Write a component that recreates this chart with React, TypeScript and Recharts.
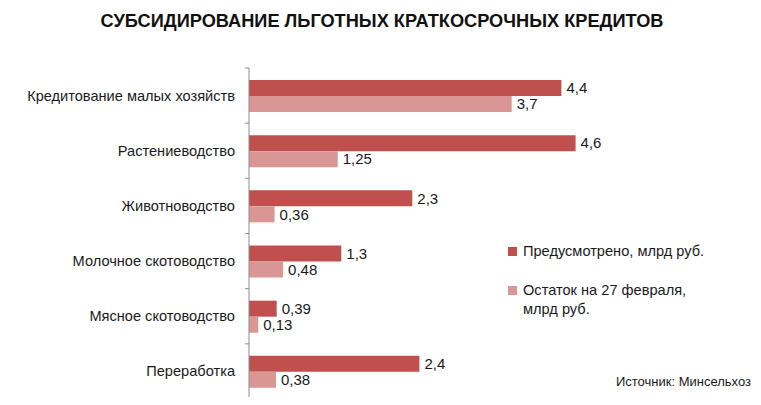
import React from "react";
import { BarChart, Bar, XAxis, YAxis, LabelList } from "recharts";

const categories = [
  "Кредитование малых хозяйств",
  "Растениеводство",
  "Животноводство",
  "Молочное скотоводство",
  "Мясное скотоводство",
  "Переработка",
];
const planned = [4.4, 4.6, 2.3, 1.3, 0.39, 2.4];
const remaining = [3.7, 1.25, 0.36, 0.48, 0.13, 0.38];

const seriesNames = ["Предусмотрено, млрд руб.", "Остаток на 27 февраля, млрд руб."];
const colors = ["#c0504d", "#d99694"];

const data = categories.map((name, i) => ({ name, plan: planned[i], rest: remaining[i] }));

const font = "'Liberation Sans', Arial, sans-serif";
const comma = (v: any) => String(v).replace(".", ",");

const CategoryTick = (props: any) => {
  const { x, y, payload, index, visibleTicksCount } = props;
  const half = payload?.offset ?? 27.6;
  return (
    <g>
      <line x1={x + 10} x2={x + 14} y1={y - half} y2={y - half} stroke="#8c8c8c" />
      {index === visibleTicksCount - 1 && (
        <line x1={x + 10} x2={x + 14} y1={y + half} y2={y + half} stroke="#8c8c8c" />
      )}
      <text x={x} y={y} textAnchor="end" dominantBaseline="central" fontSize={14.6} fill="#1a1a1a" fontFamily={font}>
        {payload.value}
      </text>
    </g>
  );
};

const App = () => {
  return (
    <div style={{ position: "relative", width: 761, height: 405, margin: -8, background: "#fff", fontFamily: font }}>
      <div style={{ position: "absolute", left: 0, width: 764, top: 11, textAlign: "center", fontSize: 18.2, fontWeight: "bold", color: "#111" }}>
        СУБСИДИРОВАНИЕ ЛЬГОТНЫХ КРАТКОСРОЧНЫХ КРЕДИТОВ
      </div>
      <BarChart
        layout="vertical"
        width={761}
        height={405}
        data={data}
        margin={{ top: 68, right: 15, bottom: 6, left: 0 }}
        barGap={0}
      >
        <XAxis type="number" domain={[0, 7]} hide />
        <YAxis
          type="category"
          dataKey="name"
          width={249}
          axisLine={{ stroke: "#8c8c8c" }}
          tickLine={false}
          tickMargin={0}
          tickSize={14}
          tick={<CategoryTick />}
        />
        <Bar dataKey="plan" fill={colors[0]} barSize={16} isAnimationActive={false}>
          <LabelList dataKey="plan" position="right" offset={5} formatter={comma} fontSize={15} fill="#1a1a1a" fontFamily={font} />
        </Bar>
        <Bar dataKey="rest" fill={colors[1]} barSize={16} isAnimationActive={false}>
          <LabelList dataKey="rest" position="right" offset={5} formatter={comma} fontSize={15} fill="#1a1a1a" fontFamily={font} />
        </Bar>
      </BarChart>
      <div style={{ position: "absolute", left: 508, top: 242, fontSize: 14.6, color: "#1a1a1a", lineHeight: "19px" }}>
        <div style={{ display: "flex", alignItems: "center" }}>
          <span style={{ width: 9, height: 9, background: colors[0], marginRight: 6, display: "inline-block" }} />
          {seriesNames[0]}
        </div>
        <div style={{ display: "flex", alignItems: "flex-start", marginTop: 20 }}>
          <span style={{ width: 9, height: 9, background: colors[1], marginRight: 6, marginTop: 5, display: "inline-block" }} />
          <span style={{ width: 190 }}>{seriesNames[1]}</span>
        </div>
      </div>
      <div style={{ position: "absolute", right: 10, top: 374, fontSize: 13, color: "#1a1a1a" }}>
        Источник: Минсельхоз
      </div>
    </div>
  );
};

export default App;
